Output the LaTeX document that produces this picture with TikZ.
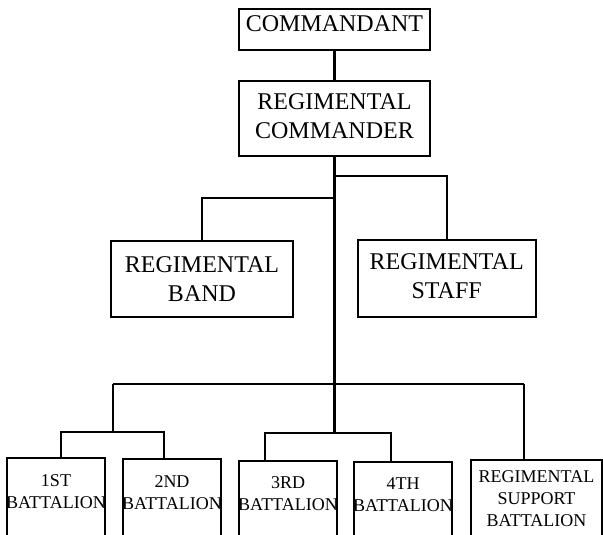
\documentclass[tikz,border=0pt]{standalone}
\usepackage{fontspec}
\setmainfont{Liberation Serif}
\begin{document}
\begin{tikzpicture}[x=1pt,y=-1pt,
  box/.style={draw,line width=2.9pt,inner sep=0pt,fill=none},
  conn/.style={line width=2.6pt},
  bigtxt/.style={inner sep=0pt,align=center,font=\fontsize{24}{28.5}\selectfont},
  smalltxt/.style={inner sep=0pt,align=center,font=\fontsize{18}{22}\selectfont}]
\useasboundingbox (0,0) rectangle (603,535);
\clip (0,0) rectangle (603,535);
% boxes
\node[box,minimum width=191pt,minimum height=41pt] (cmd) at (334.5,29.5) {};
\node[box,minimum width=191pt,minimum height=75pt] (rc) at (334.5,118.5) {};
\node[box,minimum width=182pt,minimum height=76pt] (band) at (202,279) {};
\node[box,minimum width=178pt,minimum height=77pt] (staff) at (447,278.5) {};
\node[box,minimum width=98pt,minimum height=112pt] (b1) at (56,514) {};
\node[box,minimum width=98pt,minimum height=112pt] (b2) at (172,515) {};
\node[box,minimum width=98pt,minimum height=112pt] (b3) at (288,517) {};
\node[box,minimum width=98pt,minimum height=112pt] (b4) at (403,518) {};
\node[box,minimum width=131pt,minimum height=112pt] (b5) at (536.5,516) {};
% texts
\node[bigtxt] (tcmd) at (334.5,23.5) {COMMANDANT};
\node[bigtxt] (trc) at (334.5,116) {REGIMENTAL\\COMMANDER};
\node[bigtxt] (tband) at (202,279) {REGIMENTAL\\BAND};
\node[bigtxt] (tstaff) at (446.7,276.3) {REGIMENTAL\\STAFF};
\node[smalltxt] (t1) at (56,492) {1ST\\BATTALION};
\node[smalltxt] (t2) at (172,492.5) {2ND\\BATTALION};
\node[smalltxt] (t3) at (288,493.5) {3RD\\BATTALION};
\node[smalltxt] (t4) at (403,494.5) {4TH\\BATTALION};
\node[smalltxt] (t5) at (536.5,498.5) {REGIMENTAL\\SUPPORT\\BATTALION};
% junctions
\coordinate (busL) at (113,384);
\coordinate (busR) at (524,384);
\coordinate (g1) at (113,432);
\coordinate (g2) at (335,433);
% connectors
\draw[conn] (cmd.south) -- (rc.north);
\draw[conn] (rc.south) -- (rc.south |- g2);
\draw[conn] (rc.south |- 0,198) -| (band.north);
\draw[conn] (rc.south |- 0,176) -| (staff.north);
\draw[conn] (busL) -- (busR);
\draw[conn] (busL) -- (g1);
\draw[conn] (b1.north -| 61,0) |- (g1) -| (b2.north -| 164,0);
\draw[conn] (b3.north -| 265,0) |- (g2) -| (b4.north -| 391,0);
\draw[conn] (busR) -- (b5.north -| busR);
\end{tikzpicture}
\end{document}
